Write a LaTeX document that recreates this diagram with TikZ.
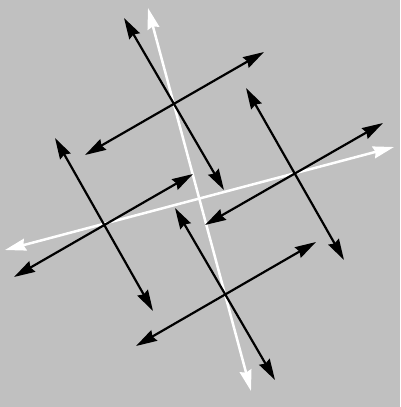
\documentclass[tikz,border=0pt]{standalone}
\usetikzlibrary{arrows.meta}
\tikzset{
    twoway/.style={{Stealth[length=21pt, width=12pt, inset=2pt]}-{Stealth[length=21pt, width=12pt, inset=2pt]}, line width=2.2pt},
    darkaxis/.style={twoway, draw=black},
    lightaxis/.style={twoway, draw=white, line width=2.5pt} }
\definecolor{bggrey}{RGB}{192,192,192}

\begin{document}
\begin{tikzpicture}[x=1pt, y=-1pt]
    \fill[bggrey] (0,0) rectangle (400,407);
    \useasboundingbox (0,0) rectangle (400,407);
    % ---- end points
    \coordinate (ta) at (124,18);  \coordinate (tb) at (224,190);
    \coordinate (tc) at (85,155);  \coordinate (td) at (264,52);
    \coordinate (la) at (55,138);  \coordinate (lb) at (153,311);
    \coordinate (lc) at (14,277);  \coordinate (ld) at (193,174);
    \coordinate (ra) at (246,88);  \coordinate (rb) at (344,260);
    \coordinate (rc) at (205,225); \coordinate (rd) at (383,123);
    \coordinate (ba) at (175,208); \coordinate (bb) at (275,380);
    \coordinate (bc) at (136,346); \coordinate (bd) at (316,242);
    \coordinate (wa) at (148,8);   \coordinate (wb) at (251,391);
    \coordinate (wc) at (5,250);   \coordinate (wd) at (394,147);
    % ---- white axes
    \draw[lightaxis] (wa) -- (wb);
    \draw[lightaxis] (wc) -- (wd);
    % ---- black crosses
    \foreach \p in {t, l, r, b} {
        \draw[darkaxis] (\p a) -- (\p b);
        \draw[darkaxis] (\p c) -- (\p d);
    }
\end{tikzpicture}
\end{document}
